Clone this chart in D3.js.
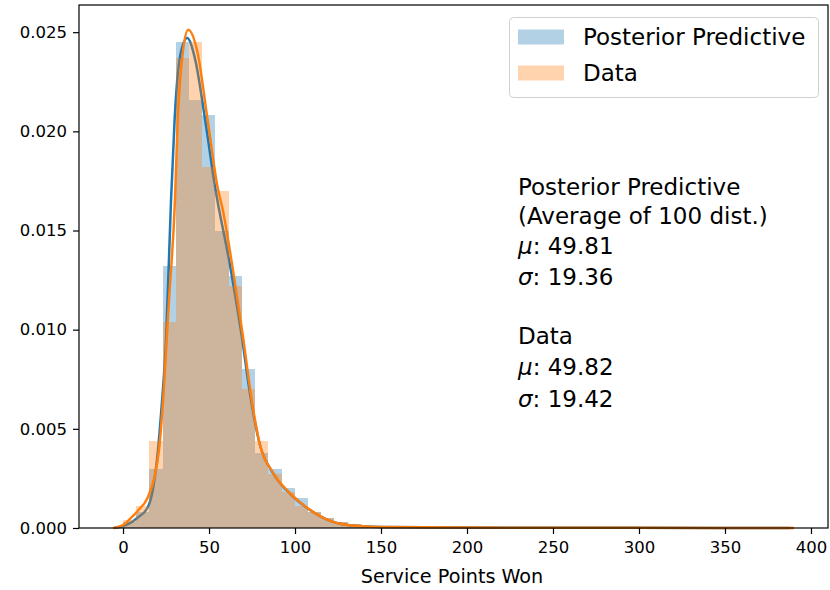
<!DOCTYPE html>
<html>
<head>
<meta charset="utf-8">
<script src="https://cdn.jsdelivr.net/npm/d3@7"></script>
<style>
  body { margin: 0; background: #fff; }
  svg text { font-family: "DejaVu Sans", sans-serif; fill: #000; }
</style>
</head>
<body>
<svg id="chart" width="830" height="590"></svg>
<script>
// histogram bins (density), shared bin layout
const binStart = 0;
const binWidth = 7.68;
const postHist = [0.0003, 0.0008, 0.0030, 0.0132, 0.0245, 0.0216, 0.0208, 0.0150, 0.0127, 0.0080,
                  0.0038, 0.0030, 0.0020, 0.0015, 0.0008, 0.0005, 0.0003, 0.0002, 0.00012, 0.00008,
                  0.00006, 0.00005, 0.00004, 0.00003, 0.00003, 0.00002, 0.00002, 0.00002, 0.00001, 0.00001,
                  0.00001, 0.00001, 0.00001, 0.00001, 0.000008, 0.000008, 0.000006, 0.000006, 0.000005, 0.000005,
                  0.000004, 0.000004, 0.000003, 0.000003, 0.000003, 0.000002, 0.000002, 0.000002, 0.000002, 0.000002];
const dataHist = [0.0004, 0.0011, 0.0044, 0.0104, 0.0237, 0.0245, 0.0182, 0.0170, 0.0122, 0.0070,
                  0.0044, 0.0027, 0.0018, 0.0011, 0.0008, 0.0005, 0.0003, 0.0002, 0.00012, 0.00008,
                  0.00006, 0.00005, 0.00004, 0.00003, 0.00003, 0.00002, 0.00002, 0.00002, 0.00001, 0.00001,
                  0.00001, 0.00001, 0.00001, 0.00001, 0.000008, 0.000008, 0.000006, 0.000006, 0.000005, 0.000005,
                  0.000004, 0.000004, 0.000003, 0.000003, 0.000003, 0.000002, 0.000002, 0.000002, 0.000002, 0.000002];

// kde curves
const postKdeX = [-5, 0, 4, 8.5, 14.3, 17.2, 20.1, 22.1, 25, 27.9, 30.0, 33.0, 37.3, 42, 47.7, 53.5,
                  62.5, 68.8, 74.5, 79, 87.7, 97.5, 107.2, 120.8, 130.5, 150, 200, 300, 388];
const postKdeY = [0, 0.0001, 0.00025, 0.00052, 0.00103, 0.00187, 0.00374, 0.00576, 0.0095, 0.0165, 0.0206, 0.0237, 0.0247, 0.0236, 0.0206, 0.0172,
                  0.0131, 0.0098, 0.0064, 0.0044, 0.0027, 0.0017, 0.0010, 0.00035, 0.00015, 0.00005, 0.00002, 0.00001, 0];
const dataKdeX = [-5.8, 0.75, 4.5, 8.5, 14.3, 18.2, 21.1, 23.0, 26.7, 30.2, 31.8, 34.7, 37.9, 43.4, 49.2, 55.0,
                  58.1, 63.7, 69.5, 74.9, 79.1, 87.7, 97.5, 107.2, 120.8, 130.5, 149.8, 200, 300, 390.1];
const dataKdeY = [0, 0.00019, 0.0005, 0.00086, 0.00153, 0.00254, 0.00406, 0.00608, 0.01146, 0.01652, 0.02056, 0.02394, 0.02512, 0.02394, 0.02056, 0.01717,
                  0.0160, 0.01313, 0.0098, 0.00641, 0.00439, 0.00273, 0.00172, 0.00101, 0.00035, 0.00015, 0.00005, 0.00002, 0.00001, 0];

const xTicks = [0, 50, 100, 150, 200, 250, 300, 350, 400];
const yTicks = [0, 0.005, 0.010, 0.015, 0.020, 0.025];
const seriesNames = ["Posterior Predictive", "Data"];
const colors = ["#1f77b4", "#ff7f0e"];
const xLabel = "Service Points Won";
const noteLines = [
  [{ t: "Posterior Predictive" }],
  [{ t: "(Average of 100 dist.)" }],
  [{ t: "\u03bc", it: true }, { t: ": 49.81" }],
  [{ t: "\u03c3", it: true }, { t: ": 19.36" }],
  [{ t: "Data" }],
  [{ t: "\u03bc", it: true }, { t: ": 49.82" }],
  [{ t: "\u03c3", it: true }, { t: ": 19.42" }]
];
const noteBaselines = [195, 223.5, 253.5, 285, 343.5, 375, 406.5];

const svg = d3.select("#chart");
const L = 79, R = 828, T = 5, B = 528;
const histAlpha = 0.34;

const x = d3.scaleLinear().domain([-25.6, 409.9]).range([L, R]);
const y = d3.scaleLinear().domain([0, 0.02637]).range([B, T]);

function drawHist(vals, color) {
  svg.append("g")
    .selectAll("rect")
    .data(vals)
    .enter()
    .append("rect")
    .attr("x", (d, i) => x(binStart + i * binWidth))
    .attr("width", (d, i) => x(binStart + (i + 1) * binWidth) - x(binStart + i * binWidth))
    .attr("y", d => y(d))
    .attr("height", d => B - y(d))
    .attr("fill", color)
    .attr("fill-opacity", histAlpha)
    .attr("shape-rendering", "crispEdges");
}

function drawKde(xs, ys, color) {
  const pts = xs.map((v, i) => [v, ys[i]]);
  svg.append("path")
    .datum(pts)
    .attr("fill", "none")
    .attr("stroke", color)
    .attr("stroke-width", 2.5)
    .attr("stroke-linejoin", "round")
    .attr("d", d3.line().x(d => x(d[0])).y(d => y(d[1])).curve(d3.curveMonotoneX));
}

drawHist(postHist, colors[0]);
drawKde(postKdeX, postKdeY, colors[0]);
drawHist(dataHist, colors[1]);
drawKde(dataKdeX, dataKdeY, colors[1]);

// axes
const xAxis = svg.append("g")
  .attr("transform", `translate(0,${B})`)
  .call(d3.axisBottom(x).tickValues(xTicks).tickFormat(d3.format("d")).tickSize(6).tickPadding(7));
const yAxis = svg.append("g")
  .attr("transform", `translate(${L},0)`)
  .call(d3.axisLeft(y).tickValues(yTicks).tickFormat(d3.format(".3f")).tickSize(6).tickPadding(6));
[xAxis, yAxis].forEach(g => {
  g.select(".domain").remove();
  g.selectAll(".tick line").attr("stroke", "#000").attr("stroke-width", 1.2);
  g.selectAll(".tick text").attr("font-size", "16.5px").attr("font-family", "DejaVu Sans").attr("fill", "#000");
});

svg.append("rect")
  .attr("x", L).attr("y", T)
  .attr("width", R - L).attr("height", B - T)
  .attr("fill", "none")
  .attr("stroke", "#000")
  .attr("stroke-width", 1.2);

svg.append("text")
  .attr("x", 452)
  .attr("y", 583)
  .attr("text-anchor", "middle")
  .attr("font-size", "19.2px")
  .text(xLabel);

// annotation
const note = svg.append("g");
noteLines.forEach((line, i) => {
  const t = note.append("text")
    .attr("x", 518)
    .attr("y", noteBaselines[i])
    .attr("font-size", "23px");
  line.forEach(p => {
    t.append("tspan").attr("font-style", p.it ? "italic" : null).text(p.t);
  });
});

// legend
const lg = svg.append("g");
lg.append("rect")
  .attr("x", 509.5).attr("y", 17.5)
  .attr("width", 309).attr("height", 80)
  .attr("rx", 4)
  .attr("fill", "#fff").attr("fill-opacity", 0.8)
  .attr("stroke", "#d0d0d0").attr("stroke-width", 1);
seriesNames.forEach((name, i) => {
  const cy = 37 + i * 36;
  lg.append("rect")
    .attr("x", 518).attr("y", cy - 7.5)
    .attr("width", 46).attr("height", 15)
    .attr("fill", colors[i]).attr("fill-opacity", histAlpha);
  lg.append("text")
    .attr("x", 583).attr("y", cy + 8)
    .attr("font-size", "23px")
    .text(name);
});
</script>
</body>
</html>
